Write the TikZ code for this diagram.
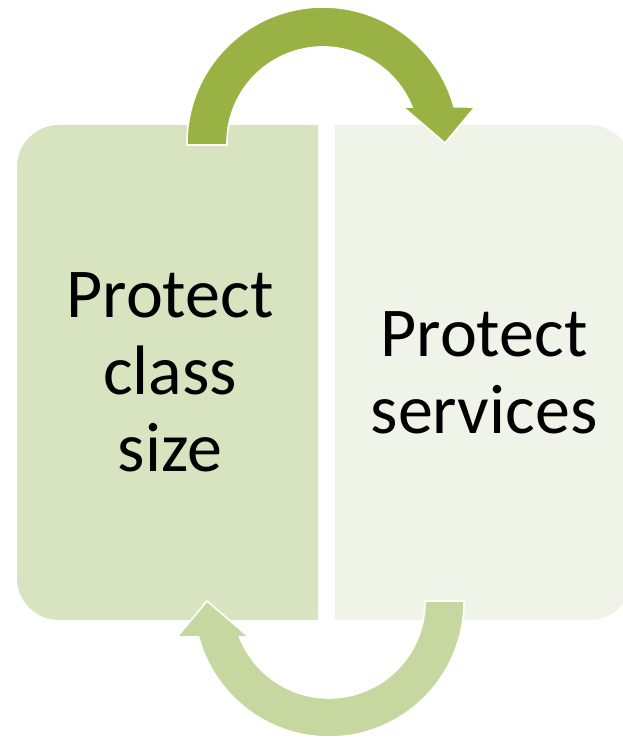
\documentclass[tikz,border=0pt]{standalone}
\usepackage{fontspec}
\setmainfont{Carlito}
\definecolor{leftc}{HTML}{D7E4BF}
\definecolor{rightc}{HTML}{F0F4E8}
\definecolor{topar}{HTML}{9AB243}
\definecolor{botar}{HTML}{C6D8A0}
\tikzset{
  lbl/.style={align=center, font=\fontsize{70}{77}\selectfont, text=black, inner sep=0pt},
  arr/.style={draw=white, line width=1.6pt, line join=miter}
}
\begin{document}
\begin{tikzpicture}[x=1pt,y=1pt]
\useasboundingbox (0,0) rectangle (623,739);
\clip (0,0) rectangle (623,739);
% boxes
\fill[leftc] (318,614) -- (59,614) arc[start angle=90,end angle=180,radius=42]
  -- (17,161) arc[start angle=180,end angle=270,radius=42] -- (318,119) -- cycle;
\fill[rightc] (335,614) -- (590,614) arc[start angle=90,end angle=0,radius=42]
  -- (632,161) arc[start angle=360,end angle=270,radius=42] -- (335,119) -- cycle;
% top arrow
\filldraw[arr, fill=topar] (187,594) -- (187,596) arc[start angle=180,end angle=15.4,radius=136]
  -- (475,632) -- (445,596) -- (403,632) -- (412,632)
  arc[start angle=22,end angle=180,radius=96] -- (227,594) -- cycle;
% bottom arrow
\filldraw[arr, fill=botar] (464,138) -- (464,137) arc[start angle=0,end angle=-165,radius=135]
  -- (177,102) -- (207,138) -- (249,102) -- (239.6,102)
  arc[start angle=-158.6,end angle=0,radius=96] -- (425,138) -- cycle;
% labels
\node[lbl] (lt) at (170,367) {Protect\\class\\size};
\node[lbl] (rt) at (484,366) {Protect\\services};
\end{tikzpicture}
\end{document}
